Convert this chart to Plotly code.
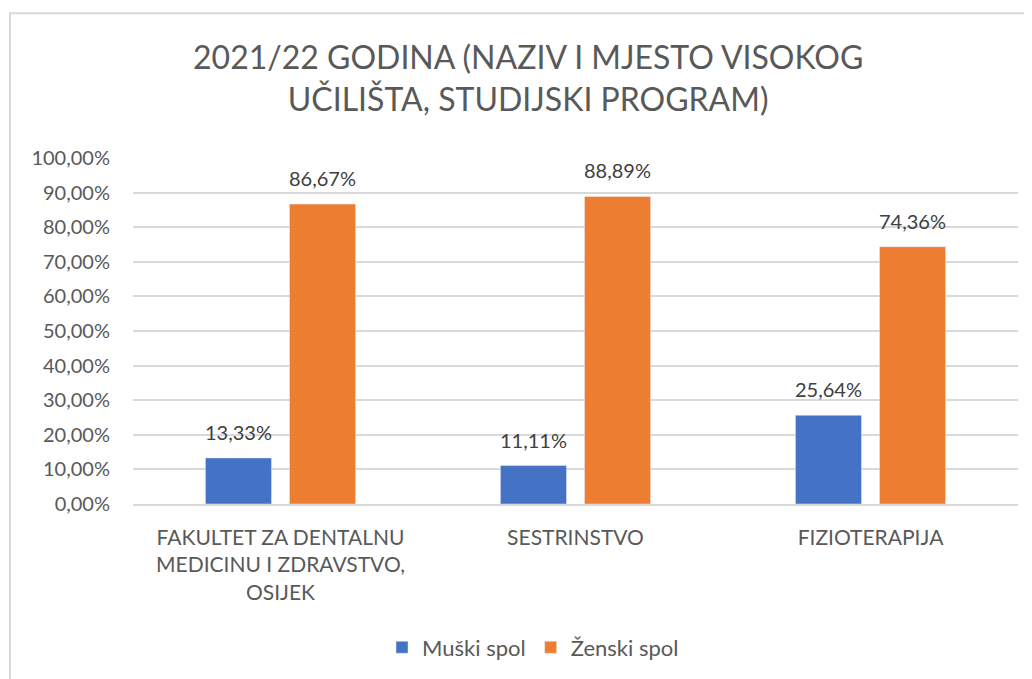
import plotly.graph_objects as go

categories = ["FAKULTET ZA DENTALNU<br>MEDICINU I ZDRAVSTVO,<br>OSIJEK", "SESTRINSTVO", "FIZIOTERAPIJA"]
muski = [13.33, 11.11, 25.64]
zenski = [86.67, 88.89, 74.36]
y_ticks = [0, 10, 20, 30, 40, 50, 60, 70, 80, 90, 100]
y_tick_text = ["%d,00%%" % v for v in y_ticks]

font_family = "Lato, 'Open Sans', sans-serif"

def pct(v):
    return ("%.2f%%" % v).replace(".", ",")

fig = go.Figure()
fig.add_trace(go.Bar(x=categories, y=muski, name="Muški spol", marker_color="#4472C4"))
fig.add_trace(go.Bar(x=categories, y=zenski, name="Ženski spol", marker_color="#ED7D31"))

# data labels sit a little above each bar, like Excel
annotations = []
for vals, shift in ((muski, -42), (zenski, 42)):
    for c, v in zip(categories, vals):
        annotations.append(dict(x=c, y=v, text=pct(v), showarrow=False, xshift=shift, yshift=12,
                                yanchor="bottom", font=dict(size=20, color="#404040")))

# page body has an 8px margin, so the figure is 8px smaller than the window
fig.update_layout(
    width=1024, height=671,
    margin=dict(l=125, r=14, t=150, b=174),
    paper_bgcolor="white", plot_bgcolor="white",
    font=dict(family=font_family, color="#595959", size=20),
    title=dict(text="2021/22 GODINA (NAZIV I MJESTO VISOKOG<br>UČILIŠTA, STUDIJSKI PROGRAM)",
               x=0.508, xanchor="center", y=0.909, yanchor="top", automargin=False,
               font=dict(size=32, color="#595959")),
    barmode="group", bargap=0.43, bargroupgap=0.214,
    legend=dict(orientation="h", x=0.452, xanchor="center", y=-0.35, yanchor="top",
                font=dict(size=22, color="#595959"), traceorder="normal"),
    annotations=annotations,
    shapes=[dict(type="rect", xref="paper", yref="paper", x0=-0.139, x1=1.03, y0=-0.56, y1=1.418,
                 line=dict(color="#D9D9D9", width=2), fillcolor="rgba(0,0,0,0)", layer="below")],
)
fig.update_xaxes(showline=True, linecolor="#D9D9D9", linewidth=1.5, ticks="", automargin=False,
                 ticklabelstandoff=14, tickfont=dict(size=21, color="#595959"))
fig.update_yaxes(range=[0, 100], tickvals=y_ticks, ticktext=y_tick_text, showgrid=True,
                 gridcolor="#D9D9D9", gridwidth=1.5, zeroline=False, ticks="", automargin=False,
                 ticklabelstandoff=22, tickfont=dict(size=20, color="#595959"))

fig.write_html("out.html")
